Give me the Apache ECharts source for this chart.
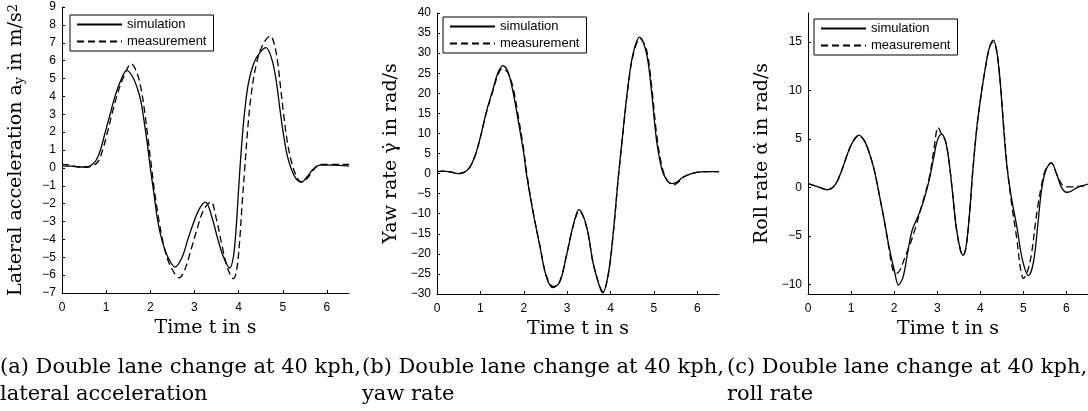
<!DOCTYPE html>
<html lang="en" style="height: 100%">
<head>
  <meta charset="utf-8">
</head>
<body style="height: 100%; margin: 0; background: #fff">
  <div id="container" style="width: 1088px; height: 411px"></div>

  <script type="text/javascript" src="https://cdn.jsdelivr.net/npm/echarts@6.0.0/dist/echarts.min.js"></script>
  <script type="text/javascript">
    var dom = document.getElementById('container');
    var myChart = echarts.init(dom, null, { renderer: 'canvas' });

    // tick labels
    var timeTicks = [0, 1, 2, 3, 4, 5, 6];
    var accTicks = [-7, -6, -5, -4, -3, -2, -1, 0, 1, 2, 3, 4, 5, 6, 7, 8, 9];
    var yawTicks = [-30, -25, -20, -15, -10, -5, 0, 5, 10, 15, 20, 25, 30, 35, 40];
    var rollTicks = [-10, -5, 0, 5, 10, 15];

    // (a) lateral acceleration [t, a_y]
    var accSim = [[0,0.1],[0.2,0.1],[0.4,0.05],[0.55,0.05],[0.75,0.35],[0.87,1.0],[0.98,2.0],[1.09,3.0],[1.2,4.0],[1.35,5.0],[1.47,5.45],[1.6,5.1],[1.7,4.5],[1.78,3.8],[1.86,2.6],[1.93,1.4],[2.0,0.0],[2.08,-1.4],[2.17,-3.0],[2.27,-4.1],[2.4,-5.0],[2.56,-5.55],[2.72,-5.0],[2.85,-4.0],[2.99,-3.0],[3.12,-2.25],[3.25,-1.92],[3.4,-2.8],[3.53,-4.0],[3.66,-5.0],[3.8,-5.6],[3.88,-5.0],[3.94,-3.5],[4.0,-1.2],[4.06,1.0],[4.13,3.0],[4.22,4.7],[4.35,5.9],[4.5,6.5],[4.62,6.73],[4.75,6.1],[4.85,4.9],[4.94,3.2],[5.02,1.8],[5.1,0.7],[5.2,-0.1],[5.3,-0.6],[5.42,-0.8],[5.55,-0.5],[5.7,-0.05],[5.85,0.15],[6.1,0.15],[6.5,0.1]];
    var accMeas = [[0,0.2],[0.2,0.15],[0.4,0.05],[0.6,0.05],[0.8,0.3],[0.92,1.0],[1.03,2.0],[1.13,3.0],[1.24,4.0],[1.38,5.0],[1.57,5.82],[1.7,5.3],[1.8,4.3],[1.88,3.0],[1.95,1.6],[2.03,0.0],[2.1,-1.4],[2.2,-3.0],[2.3,-4.3],[2.42,-5.3],[2.55,-5.9],[2.65,-6.15],[2.78,-5.7],[2.92,-4.6],[3.05,-3.5],[3.2,-2.4],[3.37,-1.9],[3.5,-2.9],[3.62,-4.3],[3.75,-5.6],[3.88,-6.2],[3.95,-5.8],[4.02,-4.2],[4.08,-2.0],[4.14,0.0],[4.2,2.0],[4.28,4.0],[4.4,5.8],[4.55,6.9],[4.72,7.38],[4.8,7.0],[4.88,6.0],[4.95,4.5],[5.02,3.0],[5.1,1.5],[5.2,0.3],[5.3,-0.4],[5.42,-0.8],[5.55,-0.6],[5.7,-0.1],[5.85,0.2],[6.1,0.2],[6.5,0.2]];

    // (b) yaw rate
    var yawSim = [[0,0.5],[0.15,0.6],[0.3,0.4],[0.5,0.0],[0.62,0.3],[0.75,1.5],[0.88,4.5],[1.0,9.1],[1.14,15.5],[1.29,21.0],[1.4,25.0],[1.52,26.9],[1.63,25.5],[1.75,20.5],[1.87,13.3],[2.0,5.0],[2.06,0.0],[2.22,-10.0],[2.37,-18.0],[2.52,-25.7],[2.67,-28.4],[2.83,-27.0],[2.98,-20.7],[3.14,-12.9],[3.27,-9.0],[3.45,-13.3],[3.6,-22.4],[3.75,-28.2],[3.82,-29.7],[3.95,-24.9],[4.06,-15.0],[4.18,-0.8],[4.29,10.8],[4.4,21.6],[4.52,29.9],[4.67,34.0],[4.83,29.9],[4.95,19.9],[5.06,8.3],[5.18,1.2],[5.29,-1.5],[5.42,-2.5],[5.55,-2.0],[5.68,-0.8],[5.98,0.3],[6.25,0.5],[6.5,0.5]];
    var yawMeas = [[0,0.5],[0.15,0.6],[0.3,0.4],[0.5,0.0],[0.62,0.3],[0.75,1.5],[0.88,4.5],[1.0,9.0],[1.14,15.2],[1.29,20.6],[1.4,24.4],[1.5,26.1],[1.63,25.2],[1.75,21.5],[1.87,14.5],[2.0,5.8],[2.07,0.0],[2.22,-9.8],[2.37,-17.8],[2.52,-25.4],[2.68,-28.2],[2.83,-26.8],[2.98,-20.5],[3.14,-13.0],[3.28,-9.3],[3.45,-13.5],[3.6,-22.3],[3.75,-28.0],[3.83,-29.4],[3.95,-25.0],[4.06,-15.2],[4.18,-1.0],[4.29,10.5],[4.4,21.2],[4.52,29.5],[4.68,33.6],[4.83,30.8],[4.95,21.5],[5.06,10.0],[5.18,2.0],[5.3,-1.6],[5.45,-2.8],[5.58,-2.0],[5.7,-0.8],[5.98,0.3],[6.25,0.5],[6.5,0.5]];

    // (c) roll rate
    var rollSim = [[0,0.38],[0.27,0.0],[0.45,-0.24],[0.62,0.2],[0.77,1.6],[0.92,3.5],[1.04,4.7],[1.18,5.4],[1.31,4.8],[1.42,3.6],[1.54,1.75],[1.65,-0.65],[1.77,-3.4],[1.88,-6.1],[2.0,-8.5],[2.1,-10.07],[2.21,-9.2],[2.31,-6.8],[2.42,-4.4],[2.58,-2.7],[2.69,-1.3],[2.81,0.7],[2.92,3.1],[3.0,4.8],[3.1,5.5],[3.19,4.8],[3.27,2.8],[3.35,-0.3],[3.44,-4.1],[3.54,-6.5],[3.6,-7.0],[3.67,-6.1],[3.75,-2.7],[3.82,1.4],[3.92,6.2],[4.02,9.6],[4.12,12.4],[4.21,14.4],[4.3,15.2],[4.38,14.1],[4.46,11.0],[4.54,6.2],[4.62,2.1],[4.72,-1.0],[4.85,-4.1],[4.98,-7.5],[5.12,-9.1],[5.23,-7.8],[5.33,-4.1],[5.42,-0.3],[5.52,1.75],[5.65,2.55],[5.77,1.4],[5.88,0.03],[6.0,-0.5],[6.1,-0.4],[6.27,0.03],[6.5,0.35]];
    var rollMeas = [[0,0.38],[0.27,0.0],[0.45,-0.24],[0.62,0.2],[0.77,1.6],[0.92,3.5],[1.04,4.7],[1.18,5.35],[1.31,4.8],[1.42,3.6],[1.54,1.75],[1.65,-0.65],[1.77,-3.4],[1.88,-6.3],[1.97,-8.5],[2.05,-8.9],[2.14,-8.5],[2.25,-7.2],[2.35,-6.1],[2.5,-4.1],[2.65,-1.7],[2.81,0.9],[2.92,3.8],[3.02,6.2],[3.1,5.5],[3.19,4.8],[3.27,2.8],[3.35,-0.3],[3.44,-4.1],[3.54,-6.5],[3.6,-7.0],[3.67,-6.1],[3.75,-2.7],[3.82,1.4],[3.92,6.2],[4.02,9.6],[4.12,12.4],[4.21,14.4],[4.3,15.0],[4.38,14.1],[4.46,11.0],[4.54,6.5],[4.62,2.3],[4.72,-1.5],[4.85,-5.4],[4.93,-8.3],[5.0,-9.4],[5.1,-8.6],[5.19,-6.8],[5.31,-2.7],[5.42,0.2],[5.52,1.9],[5.65,2.5],[5.77,1.4],[5.88,0.4],[5.96,0.1],[6.1,0.05],[6.27,0.1],[6.5,0.2]];

    var serif = '"DejaVu Serif", serif';
    var sans = '"Liberation Sans", Arial, sans-serif';

    function minus(v) {
      return String(v).replace('-', '\u2212');
    }

    function xAxisFor(i) {
      return {
        type: 'value', gridIndex: i, min: 0, max: 6.5,
        name: 'Time t in s', nameLocation: 'middle', nameGap: 23,
        nameTextStyle: { fontFamily: serif, fontSize: 19, color: '#000' },
        axisLine: { onZero: false, lineStyle: { color: '#000', width: 1 } },
        axisTick: { inside: true, length: 3, customValues: timeTicks, lineStyle: { color: '#000' } },
        axisLabel: { customValues: timeTicks, margin: 9, fontFamily: sans, fontSize: 12, color: '#000' },
        splitLine: { show: false }
      };
    }

    function yAxisFor(i, min, max, ticks, name, rich) {
      return {
        type: 'value', gridIndex: i, min: min, max: max,
        name: name, nameLocation: 'middle', nameGap: 36, nameRotate: 90,
        nameTextStyle: { fontFamily: serif, fontSize: 19, color: '#000', rich: rich },
        axisLine: { show: true, onZero: false, lineStyle: { color: '#000', width: 1 } },
        axisTick: { inside: true, length: 3, customValues: ticks, lineStyle: { color: '#000' } },
        axisLabel: { customValues: ticks, margin: 6, fontFamily: sans, fontSize: 12, color: '#000', formatter: minus },
        splitLine: { show: false }
      };
    }

    function lineSeries(name, i, data, dashed) {
      return {
        name: name, type: 'line', xAxisIndex: i, yAxisIndex: i,
        data: data, symbol: 'none', showSymbol: false, smooth: 0.35,
        lineStyle: { color: '#000', width: 1.3, type: dashed ? [7, 4] : 'solid' },
        itemStyle: { color: '#000' },
        silent: true
      };
    }

    function legendAt(left, top) {
      return {
        orient: 'vertical', left: left, top: top,
        data: ['simulation', 'measurement'],
        itemWidth: 45, itemHeight: 14, itemGap: 4,
        padding: [3, 7, 3, 6],
        borderColor: '#000', borderWidth: 1, borderRadius: 0,
        backgroundColor: '#fff',
        selectedMode: false,
        itemStyle: { opacity: 0 },
        textStyle: { fontFamily: sans, fontSize: 13, color: '#000' }
      };
    }

    var subRich = {
      sub: { fontFamily: serif, fontSize: 13, verticalAlign: 'bottom', color: '#000' },
      sup: { fontFamily: serif, fontSize: 13, verticalAlign: 'top', color: '#000' }
    };

    var option = {
      animation: false,
      backgroundColor: '#fff',
      grid: [
        { left: 62, top: 7, width: 287, height: 286 },
        { left: 437, top: 13, width: 282, height: 281 },
        { left: 808, top: 13, width: 282, height: 281 }
      ],
      xAxis: [xAxisFor(0), xAxisFor(1), xAxisFor(2)],
      yAxis: [
        yAxisFor(0, -7, 9, accTicks, 'Lateral acceleration a{sub|y} in m/s{sup|2}', subRich),
        yAxisFor(1, -30, 40, yawTicks, 'Yaw rate \u03b3\u0307 in rad/s'),
        yAxisFor(2, -11, 18, rollTicks, 'Roll rate \u03b1\u0307 in rad/s')
      ],
      legend: [legendAt(70, 15), legendAt(443, 17), legendAt(814, 19)],
      series: [
        lineSeries('simulation', 0, accSim, false),
        lineSeries('measurement', 0, accMeas, true),
        lineSeries('simulation', 1, yawSim, false),
        lineSeries('measurement', 1, yawMeas, true),
        lineSeries('simulation', 2, rollSim, false),
        lineSeries('measurement', 2, rollMeas, true)
      ],
      graphic: [
        { type: 'text', x: 0, y: 354, style: { text: '(a) Double lane change at 40 kph,\nlateral acceleration', fontFamily: serif, fontSize: 21, lineHeight: 27, fill: '#000', verticalAlign: 'top' } },
        { type: 'text', x: 362, y: 354, style: { text: '(b) Double lane change at 40 kph,\nyaw rate', fontFamily: serif, fontSize: 21, lineHeight: 27, fill: '#000', verticalAlign: 'top' } },
        { type: 'text', x: 727, y: 354, style: { text: '(c) Double lane change at 40 kph,\nroll rate', fontFamily: serif, fontSize: 21, lineHeight: 27, fill: '#000', verticalAlign: 'top' } }
      ]
    };

    myChart.setOption(option);
    window.addEventListener('resize', myChart.resize);
  </script>
</body>
</html>
